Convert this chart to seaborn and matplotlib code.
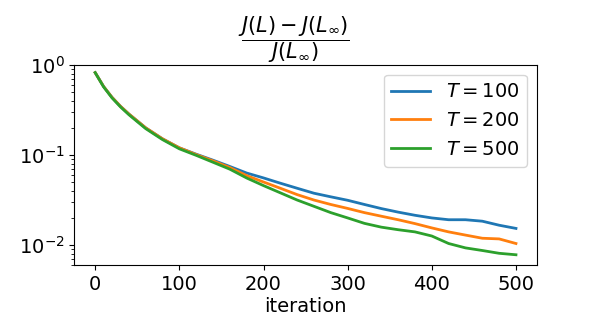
import numpy as np
import pandas as pd
import seaborn as sns
from matplotlib import pyplot as plt

iters = [0, 10, 20, 30, 40, 60, 80, 100, 120, 140, 160, 180, 200, 220, 240, 260,
         280, 300, 320, 340, 360, 380, 400, 420, 440, 460, 480, 500]

# relative gap (J(L)-J(Linf))/J(Linf)
gap_100 = [0.82, 0.575, 0.436, 0.347, 0.285, 0.200, 0.151, 0.120, 0.102, 0.0875, 0.0745,
           0.063, 0.0556, 0.0486, 0.0427, 0.0376, 0.0343, 0.0314, 0.0282, 0.0254,
           0.0232, 0.0214, 0.0200, 0.0191, 0.0191, 0.0184, 0.0166, 0.0153]
gap_200 = [0.82, 0.575, 0.436, 0.347, 0.285, 0.200, 0.151, 0.120, 0.101, 0.086, 0.0725,
           0.0590, 0.0501, 0.0427, 0.0363, 0.0316, 0.0282, 0.0255, 0.0229, 0.0209,
           0.0191, 0.0173, 0.0155, 0.0140, 0.0129, 0.0119, 0.0117, 0.0104]
gap_500 = [0.82, 0.570, 0.430, 0.342, 0.280, 0.196, 0.148, 0.117, 0.099, 0.083, 0.0695,
           0.0555, 0.0457, 0.0380, 0.0316, 0.0269, 0.0229, 0.0200, 0.0174, 0.0158,
           0.0148, 0.0140, 0.0126, 0.0104, 0.0093, 0.0087, 0.0081, 0.0078]
horizons = [100, 200, 500]

rows = []
for T, vals in zip(horizons, [gap_100, gap_200, gap_500]):
    for it, v in zip(iters, vals):
        rows.append({"iteration": it, "gap": v, "T": r"$T = %d$" % T})
df = pd.DataFrame(rows)

fig = plt.figure(figsize=(5.98, 3.26), dpi=100)
ax = fig.add_axes([0.124, 0.187, 0.774, 0.614])

sns.lineplot(data=df, x="iteration", y="gap", hue="T",
             palette=["#1f77b4", "#ff7f0e", "#2ca02c"], linewidth=2, ax=ax)
ax.set_yscale("log")
ax.set_ylim(0.006, 1.0)
ax.set_xlim(-25, 525)
ax.set_xticks([0, 100, 200, 300, 400, 500])
ax.tick_params(labelsize=14)
ax.set_xlabel("iteration", fontsize=14, labelpad=2)
ax.set_ylabel("")
ax.set_title(r"$\dfrac{J(L)-J(L_\infty)}{J(L_\infty)}$", fontsize=15, pad=-4, x=0.475)
ax.legend(title=None, fontsize=14, loc="upper right", handlelength=2)

fig.savefig("out.png", dpi=100)
